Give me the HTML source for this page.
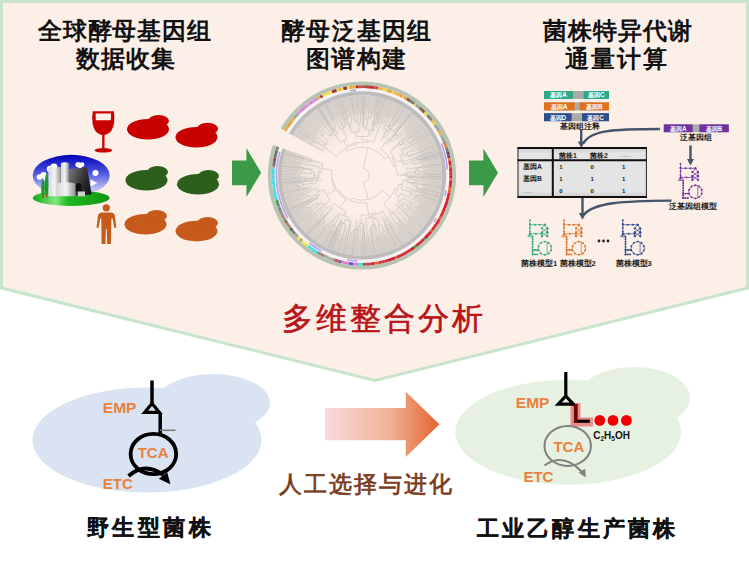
<!DOCTYPE html>
<html><head><meta charset="utf-8">
<style>
html,body{margin:0;padding:0;background:#fff;}
body{width:749px;height:570px;overflow:hidden;position:relative;font-family:"Liberation Sans",sans-serif;}
svg{position:absolute;left:0;top:0;}
.t{position:absolute;white-space:nowrap;font-family:"Liberation Sans",sans-serif;font-weight:bold;line-height:1;}
.h{font-size:24px;color:#111;text-align:center;line-height:29px;}
.sm{font-family:"Liberation Sans",sans-serif;font-weight:bold;}
</style></head><body>
<svg width="749" height="570" viewBox="0 0 749 570">
<defs>
<linearGradient id="sky" x1="0" y1="0" x2="0" y2="1"><stop offset="0" stop-color="#0000b8"/><stop offset="0.45" stop-color="#5058e0"/><stop offset="0.8" stop-color="#b8b8f4"/><stop offset="1" stop-color="#e0e0fa"/></linearGradient>
<linearGradient id="grass" x1="0" y1="0" x2="1" y2="0"><stop offset="0" stop-color="#10a810"/><stop offset="0.3" stop-color="#80e880"/><stop offset="0.45" stop-color="#20b820"/><stop offset="1" stop-color="#109810"/></linearGradient>
<linearGradient id="bld1" x1="0" y1="0" x2="1" y2="0"><stop offset="0" stop-color="#d8d8d8"/><stop offset="0.5" stop-color="#f4f4f4"/><stop offset="1" stop-color="#909090"/></linearGradient>
<linearGradient id="bld2" x1="0" y1="0" x2="1" y2="0.4"><stop offset="0" stop-color="#7a7a7a"/><stop offset="0.6" stop-color="#3a3a3a"/><stop offset="1" stop-color="#1a1a1a"/></linearGradient>
<linearGradient id="garr" x1="0" y1="0" x2="1" y2="0"><stop offset="0" stop-color="#f9d9de"/><stop offset="0.55" stop-color="#f0b49a"/><stop offset="1" stop-color="#e4642e"/></linearGradient>
<linearGradient id="tbl" x1="0" y1="0" x2="0" y2="1"><stop offset="0" stop-color="#cccccc"/><stop offset="0.12" stop-color="#e4e4e4"/><stop offset="0.88" stop-color="#e4e4e4"/><stop offset="1" stop-color="#cccccc"/></linearGradient>
</defs>
<!-- top panel -->
<polygon points="1.5,1.5 747.5,1.5 747.5,288 375,380.5 1.5,288" fill="#fcefe7" stroke="#c6e5c9" stroke-width="3"/>

<!-- factory -->
<ellipse cx="71.2" cy="175.5" rx="38.5" ry="20.7" fill="url(#sky)"/>
<g fill="#fff"><circle cx="50" cy="169" r="3.2"/><circle cx="54" cy="167" r="3.4"/><circle cx="52" cy="172" r="2.6"/>
<circle cx="39.5" cy="177" r="2.8"/><circle cx="43.5" cy="175" r="3"/><circle cx="45.5" cy="178.5" r="2.4"/>
<circle cx="78" cy="164.6" r="2.6"/><circle cx="82" cy="164.6" r="2.4"/><circle cx="80" cy="166.6" r="2"/>
<circle cx="95.5" cy="173" r="3"/><path d="M90.5 179.5L97.5 183L90.5 186.5Z"/></g>
<ellipse cx="71.2" cy="198.1" rx="38.5" ry="7.8" fill="url(#grass)"/>
<path d="M48.4 196.3V168Q52 166 56 167L61 167V196.3Z" fill="url(#bld1)"/>
<path d="M61 186V163Q65 161.5 68.9 163V186Z" fill="url(#bld1)"/>
<path d="M68.9 169L87 167.5L91.7 194.5L68.9 196Z" fill="url(#bld2)"/>
<path d="M75.5 191.5V184Q78.5 182 81.5 184V191.5Z" fill="#111"/>
<path d="M56.9 196.3V183.5Q66 181 75.5 183.5V196.3Z" fill="url(#bld1)"/>
<path d="M77.9 196.3V191.5H85V196.3Z" fill="#d0d0d0"/>
<g fill="#1a9a2a"><ellipse cx="43" cy="188.5" rx="1.8" ry="9"/><ellipse cx="46.6" cy="185.5" rx="1.8" ry="12"/></g>
<g fill="#8a5a2a"><rect x="42.4" y="194" width="1.2" height="4"/><rect x="46" y="194" width="1.2" height="4"/></g>

<!-- wine glass -->
<path d="M92.8 111.2L113.8 111.2Q115.8 124 111.2 131Q107.6 135 103.3 135Q99 135 95.4 131Q90.8 124 92.8 111.2Z" fill="#c80000"/>
<path d="M95.6 113.6H111.1L110.9 120.2H95.8Z" fill="#fcefe7"/>
<rect x="102.2" y="133" width="2.3" height="16" fill="#c80000"/>
<ellipse cx="103.4" cy="150.3" rx="8.8" ry="2.3" fill="#c80000"/>
<!-- person -->
<g fill="#c55a1c"><circle cx="106.3" cy="207.8" r="3.6"/>
<path d="M102 212.5L110.8 212.5Q114 212.5 114.8 215.5L116.3 227.5L114.3 228L112.6 218.5L111.4 218.5L111 244L107.2 244L106.7 229L105.9 229L105.4 244L101.6 244L101.3 218.5L100.2 218.5L98.5 228L96.5 227.5L98 215.5Q98.8 212.5 102 212.5Z"/></g>

<!-- yeast blobs -->
<g fill="#c80000"><ellipse cx="148" cy="129.3" rx="21" ry="10.3"/><ellipse cx="158.5" cy="121" rx="10.5" ry="6"/><ellipse cx="196.5" cy="137.3" rx="21" ry="10.3"/><ellipse cx="207.5" cy="128.8" rx="10.5" ry="6"/></g>
<g fill="#2c5f1c"><ellipse cx="146.5" cy="180.3" rx="21" ry="10.3"/><ellipse cx="157.5" cy="172" rx="10.5" ry="6"/><ellipse cx="198" cy="184.3" rx="21" ry="10.3"/><ellipse cx="208.5" cy="176" rx="10.5" ry="6"/></g>
<g fill="#c55a1c"><ellipse cx="145.5" cy="224.3" rx="21" ry="10.3"/><ellipse cx="156.5" cy="216" rx="10.5" ry="6"/><ellipse cx="196.5" cy="231.1" rx="21" ry="10.3"/><ellipse cx="207.5" cy="223" rx="10.5" ry="6"/></g>
<!-- green arrows -->
<path d="M232 160.4H246.4V148L261.1 172.7L246.4 197V185.3H232Z" fill="#3a9a48"/>
<path d="M469 160.4H483.4V148.5L498 172.7L483.4 197V185.3H469Z" fill="#3a9a48"/>

<!-- tree -->
<radialGradient id="tg" cx="362" cy="175.5" r="80" gradientUnits="userSpaceOnUse"><stop offset="0.45" stop-color="#b0acaa" stop-opacity="0"/><stop offset="0.62" stop-color="#b0acaa" stop-opacity="0.12"/><stop offset="1" stop-color="#a0a0a0" stop-opacity="0.3"/></radialGradient>
<circle cx="362" cy="175.5" r="80" fill="url(#tg)"/>
<path d="M311.0 144.9L293.4 134.3M304.7 139.5L294.3 132.9M305.4 138.3L295.2 131.6M304.7 139.5A67.7 67.7 0 0 1 305.4 138.3M312.0 143.3L305.1 138.9M311.0 144.9A59.5 59.5 0 0 1 312.0 143.3M321.9 150.6L311.5 144.1M314.6 142.9L296.1 130.2M308.8 137.4L297.0 128.9M309.6 136.3L297.9 127.6M308.8 137.4A65.5 65.5 0 0 1 309.6 136.3M315.6 141.5L309.2 136.8M314.6 142.9A57.6 57.6 0 0 1 315.6 141.5M317.7 144.1L315.1 142.2M319.2 142.1L298.9 126.3M317.7 144.1A54.3 54.3 0 0 1 319.2 142.1M322.2 145.9L318.4 143.1M316.6 138.6L299.9 125.0M314.2 135.0L301.0 123.8M315.1 134.1L302.0 122.5M314.2 135.0A62.6 62.6 0 0 1 315.1 134.1M315.7 135.5L314.6 134.5M317.0 134.1L303.1 121.3M315.7 135.5A61.2 61.2 0 0 1 317.0 134.1M318.3 136.6L316.3 134.8M316.6 138.6A58.5 58.5 0 0 1 318.3 136.6M324.3 143.3L317.5 137.6M322.2 145.9A49.6 49.6 0 0 1 324.3 143.3M324.1 145.3L323.2 144.6M316.7 132.1L304.2 120.2M317.6 131.2L305.4 119.0M316.7 132.1A62.7 62.7 0 0 1 317.6 131.2M321.8 136.2L317.1 131.7M322.0 133.9L306.5 117.9M317.9 127.8L307.7 116.8M318.9 126.9L308.9 115.7M317.9 127.8A65.0 65.0 0 0 1 318.9 126.9M323.3 132.7L318.4 127.3M322.0 133.9A57.7 57.7 0 0 1 323.3 132.7M323.7 134.5L322.6 133.3M321.8 136.2A56.2 56.2 0 0 1 323.7 134.5M328.2 140.9L322.7 135.3M324.1 145.3A48.4 48.4 0 0 1 328.2 140.9M327.0 143.8L326.1 143.1M321.9 150.6A47.2 47.2 0 0 1 327.0 143.8M336.8 156.5L324.3 147.1M320.2 126.5L310.1 114.6M321.2 125.7L311.4 113.6M320.2 126.5A64.4 64.4 0 0 1 321.2 125.7M328.6 135.4L320.7 126.1M322.4 125.0L312.6 112.6M323.4 124.2L313.9 111.6M322.4 125.0A64.1 64.1 0 0 1 323.4 124.2M325.0 127.3L322.9 124.6M326.4 126.2L315.2 110.6M325.0 127.3A60.8 60.8 0 0 1 326.4 126.2M330.8 133.6L325.7 126.7M328.6 135.4A52.2 52.2 0 0 1 330.8 133.6M330.5 135.5L329.7 134.5M323.5 119.7L316.5 109.7M324.6 118.9L317.9 108.8M323.5 119.7A67.8 67.8 0 0 1 324.6 118.9M333.5 133.3L324.0 119.3M330.5 135.5A50.9 50.9 0 0 1 333.5 133.3M333.4 136.3L332.0 134.4M326.3 119.1L319.2 107.9M327.5 118.4L320.6 107.0M326.3 119.1A66.8 66.8 0 0 1 327.5 118.4M333.3 129.1L326.9 118.7M330.9 121.7L322.0 106.2M331.3 119.6L323.4 105.4M332.4 119.0L324.9 104.6M331.3 119.6A63.8 63.8 0 0 1 332.4 119.0M332.6 120.7L331.8 119.3M330.9 121.7A62.2 62.2 0 0 1 332.6 120.7M335.4 127.8L331.8 121.2M333.3 129.1A54.6 54.6 0 0 1 335.4 127.8M337.4 133.7L334.4 128.4M333.4 136.3A48.5 48.5 0 0 1 337.4 133.7M340.4 142.6L335.4 135.0M332.9 117.1L326.3 103.9M334.1 116.5L327.8 103.2M332.9 117.1A65.3 65.3 0 0 1 334.1 116.5M334.7 119.4L333.5 116.8M336.4 118.6L329.2 102.5M334.7 119.4A62.4 62.4 0 0 1 336.4 118.6M340.3 129.1L335.6 119.0M337.9 118.8L330.7 101.9M339.0 118.3L332.2 101.3M337.9 118.8A61.6 61.6 0 0 1 339.0 118.3M340.9 124.5L338.5 118.5M339.3 115.3L333.7 100.7M340.5 114.9L335.2 100.1M339.3 115.3A64.3 64.3 0 0 1 340.5 114.9M343.0 123.7L339.9 115.1M340.9 124.5A55.1 55.1 0 0 1 343.0 123.7M343.0 126.8L342.0 124.1M345.5 125.9L336.8 99.6M343.0 126.8A52.3 52.3 0 0 1 345.5 125.9M344.6 127.3L344.3 126.3M340.3 129.1A51.2 51.2 0 0 1 344.6 127.3M347.0 139.1L342.5 128.2M340.4 142.6A39.4 39.4 0 0 1 347.0 139.1M346.5 146.1L343.6 140.7M344.8 120.0L338.3 99.1M344.2 113.8L339.9 98.6M345.5 113.5L341.4 98.2M344.2 113.8A64.2 64.2 0 0 1 345.5 113.5M345.8 117.1L344.9 113.6M346.4 111.7L343.0 97.8M347.7 111.3L344.6 97.4M346.4 111.7A65.7 65.7 0 0 1 347.7 111.3M348.2 116.5L347.0 111.5M345.8 117.1A60.5 60.5 0 0 1 348.2 116.5M347.6 119.2L347.0 116.8M344.8 120.0A58.1 58.1 0 0 1 347.6 119.2M347.5 124.2L346.2 119.6M349.9 115.8L346.2 97.1M351.2 115.6L347.8 96.8M349.9 115.8A60.9 60.9 0 0 1 351.2 115.6M352.0 123.2L350.5 115.7M347.5 124.2A53.3 53.3 0 0 1 352.0 123.2M351.9 132.7L349.7 123.7M351.3 108.8L349.4 96.5M352.7 108.6L351.0 96.3M351.3 108.8A67.5 67.5 0 0 1 352.7 108.6M353.7 120.0L352.0 108.7M354.5 112.8L352.6 96.1M355.8 112.6L354.2 95.9M354.5 112.8A63.2 63.2 0 0 1 355.8 112.6M355.9 119.7L355.2 112.7M353.7 120.0A56.1 56.1 0 0 1 355.9 119.7M355.0 121.3L354.8 119.9M356.7 107.8L355.8 95.7M358.1 107.7L357.4 95.6M356.7 107.8A67.9 67.9 0 0 1 358.1 107.7M358.3 121.0L357.4 107.7M355.0 121.3A54.6 54.6 0 0 1 358.3 121.0M356.8 122.9L356.7 121.2M359.6 112.3L359.0 95.6M360.9 112.3L360.6 95.5M359.6 112.3A63.3 63.3 0 0 1 360.9 112.3M360.6 122.7L360.3 112.3M356.8 122.9A52.9 52.9 0 0 1 360.6 122.7M359.2 131.6L358.7 122.7M351.9 132.7A44.0 44.0 0 0 1 359.2 131.6M356.3 136.8L355.5 132.0M362.2 112.0L362.3 95.5M363.5 112.0L363.9 95.5M362.2 112.0A63.5 63.5 0 0 1 363.5 112.0M362.8 113.0L362.9 112.0M364.7 113.1L365.5 95.6M362.8 113.0A62.5 62.5 0 0 1 364.7 113.1M363.4 126.8L363.8 113.1M365.6 118.7L367.1 95.7M367.7 108.4L368.7 95.8M369.0 108.5L370.3 95.9M367.7 108.4A67.3 67.3 0 0 1 369.0 108.5M368.0 112.2L368.3 108.5M369.9 112.4L372.0 96.1M368.0 112.2A63.6 63.6 0 0 1 369.9 112.4M368.4 117.1L369.0 112.3M371.1 113.5L373.6 96.3M372.3 113.7L375.2 96.6M371.1 113.5A62.6 62.6 0 0 1 372.3 113.7M371.1 117.5L371.7 113.6M368.4 117.1A58.8 58.8 0 0 1 371.1 117.5M369.5 119.0L369.8 117.3M365.6 118.7A56.9 56.9 0 0 1 369.5 119.0M366.8 127.0L367.6 118.8M363.4 126.8A48.7 48.7 0 0 1 366.8 127.0M364.9 129.4L365.1 126.9M374.6 108.6L376.8 96.9M375.9 108.9L378.3 97.2M374.6 108.6A68.1 68.1 0 0 1 375.9 108.9M374.1 114.7L375.2 108.7M375.9 115.1L379.9 97.5M374.1 114.7A62.0 62.0 0 0 1 375.9 115.1M373.2 123.4L375.0 114.8M376.1 119.5L381.5 97.9M378.2 116.1L383.1 98.3M379.4 116.4L384.6 98.8M378.2 116.1A61.6 61.6 0 0 1 379.4 116.4M377.8 119.9L378.8 116.2M376.1 119.5A57.8 57.8 0 0 1 377.8 119.9M375.8 124.0L376.9 119.7M373.2 123.4A53.3 53.3 0 0 1 375.8 124.0M372.8 130.6L374.5 123.7M364.9 129.4A46.2 46.2 0 0 1 372.8 130.6M367.8 136.8L368.9 129.9M356.3 136.8A39.2 39.2 0 0 1 367.8 136.8M362.0 139.9L362.0 136.3M378.7 122.8L386.2 99.2M380.9 119.8L387.7 99.7M383.7 115.5L389.3 100.3M384.9 116.0L390.8 100.9M383.7 115.5A63.8 63.8 0 0 1 384.9 116.0M382.6 120.4L384.3 115.8M380.9 119.8A58.8 58.8 0 0 1 382.6 120.4M381.3 121.4L381.8 120.1M386.0 116.8L392.3 101.5M387.2 117.3L393.8 102.1M386.0 116.8A63.4 63.4 0 0 1 387.2 117.3M384.3 122.6L386.6 117.1M381.3 121.4A57.4 57.4 0 0 1 384.3 122.6M382.0 124.0L382.8 122.0M378.7 122.8A55.2 55.2 0 0 1 382.0 124.0M373.8 141.9L380.4 123.4M362.0 139.9A35.6 35.6 0 0 1 373.8 141.9M367.6 142.7L368.0 140.4M346.5 146.1A33.2 33.2 0 0 1 367.6 142.7M357.0 144.3L356.8 142.7M336.8 156.5A31.6 31.6 0 0 1 357.0 144.3M347.5 151.3L345.7 148.4M383.5 128.4L395.2 102.7M389.9 117.6L396.7 103.4M391.1 118.2L398.2 104.1M389.9 117.6A64.3 64.3 0 0 1 391.1 118.2M387.0 125.0L390.5 117.9M392.1 119.1L399.6 104.9M393.2 119.7L401.0 105.7M392.1 119.1A63.9 63.9 0 0 1 393.2 119.7M389.7 124.8L392.6 119.4M392.3 123.8L402.4 106.5M394.0 123.3L403.8 107.3M396.6 121.5L405.2 108.2M398.5 121.0L406.6 109.1M399.6 121.8L407.9 110.0M398.5 121.0A65.6 65.6 0 0 1 399.6 121.8M398.3 122.6L399.1 121.4M396.6 121.5A64.2 64.2 0 0 1 398.3 122.6M395.9 124.5L397.5 122.0M394.0 123.3A61.2 61.2 0 0 1 395.9 124.5M394.2 125.0L394.9 123.9M392.3 123.8A59.9 59.9 0 0 1 394.2 125.0M392.1 126.2L393.3 124.4M389.7 124.8A57.7 57.7 0 0 1 392.1 126.2M390.2 126.7L390.9 125.5M387.0 125.0A56.4 56.4 0 0 1 390.2 126.7M387.8 127.4L388.6 125.8M394.2 131.4L409.2 110.9M387.8 127.4A54.6 54.6 0 0 1 394.2 131.4M389.6 131.6L391.0 129.3M383.5 128.4A51.8 51.8 0 0 1 389.6 131.6M383.4 135.8L386.6 129.9M398.6 127.5L410.5 111.9M403.8 122.9L411.8 112.9M404.9 123.8L413.0 113.9M403.8 122.9A67.2 67.2 0 0 1 404.9 123.8M400.0 128.6L404.4 123.3M398.6 127.5A60.4 60.4 0 0 1 400.0 128.6M394.9 133.7L399.3 128.1M405.2 125.4L414.3 114.9M406.2 126.3L415.5 116.0M405.2 125.4A66.1 66.1 0 0 1 406.2 126.3M404.6 127.1L405.7 125.9M406.1 128.4L416.7 117.1M404.6 127.1A64.5 64.5 0 0 1 406.1 128.4M397.8 136.1L405.4 127.8M394.9 133.7A53.2 53.2 0 0 1 397.8 136.1M395.3 136.2L396.4 134.9M398.0 138.6L417.9 118.2M395.3 136.2A51.5 51.5 0 0 1 398.0 138.6M392.3 142.1L396.6 137.4M383.4 135.8A45.1 45.1 0 0 1 392.3 142.1M380.9 148.9L388.0 138.7M407.5 130.7L419.0 119.4M410.3 129.8L420.1 120.5M411.2 130.8L421.2 121.7M410.3 129.8A66.5 66.5 0 0 1 411.2 130.8M408.8 132.1L410.8 130.3M407.5 130.7A63.8 63.8 0 0 1 408.8 132.1M406.4 133.1L408.2 131.4M408.3 135.1L422.3 122.9M406.4 133.1A61.4 61.4 0 0 1 408.3 135.1M398.4 142.3L407.4 134.1M402.2 141.9L423.4 124.2M409.3 137.5L424.4 125.4M412.1 136.9L425.4 126.7M412.9 137.9L426.4 128.0M412.1 136.9A63.3 63.3 0 0 1 412.9 137.9M410.5 139.0L412.5 137.4M409.3 137.5A60.7 60.7 0 0 1 410.5 139.0M407.2 140.3L409.9 138.2M412.8 139.6L427.3 129.3M413.5 140.6L428.2 130.6M412.8 139.6A62.2 62.2 0 0 1 413.5 140.6M409.1 142.9L413.1 140.1M407.2 140.3A57.3 57.3 0 0 1 409.1 142.9M404.2 144.5L408.2 141.6M402.2 141.9A52.4 52.4 0 0 1 404.2 144.5M400.8 145.1L403.2 143.2M398.4 142.3A49.3 49.3 0 0 1 400.8 145.1M390.1 151.7L399.6 143.7M411.3 143.6L429.1 132.0M418.4 140.6L430.0 133.4M419.1 141.7L430.8 134.7M418.4 140.6A66.3 66.3 0 0 1 419.1 141.7M415.9 142.9L418.7 141.1M416.9 144.5L431.7 136.1M415.9 142.9A63.0 63.0 0 0 1 416.9 144.5M412.7 145.8L416.4 143.7M411.3 143.6A58.7 58.7 0 0 1 412.7 145.8M401.9 150.9L412.0 144.7M411.0 149.1L432.4 137.6M419.1 146.2L433.2 139.0M419.7 147.4L433.9 140.5M419.1 146.2A64.2 64.2 0 0 1 419.7 147.4M417.2 147.9L419.4 146.8M420.0 148.6L434.6 141.9M420.6 149.8L435.3 143.4M420.0 148.6A64.0 64.0 0 0 1 420.6 149.8M418.3 150.1L420.3 149.2M417.2 147.9A61.7 61.7 0 0 1 418.3 150.1M412.3 151.6L417.8 149.0M411.0 149.1A55.7 55.7 0 0 1 412.3 151.6M406.9 152.8L411.7 150.4M420.4 151.3L435.9 144.9M420.8 152.5L436.5 146.4M420.4 151.3A63.2 63.2 0 0 1 420.8 152.5M408.7 156.7L420.6 151.9M406.9 152.8A50.3 50.3 0 0 1 408.7 156.7M404.7 156.2L407.8 154.7M401.9 150.9A46.9 46.9 0 0 1 404.7 156.2M399.8 155.4L403.4 153.5M420.2 154.1L437.1 147.9M420.6 155.3L437.6 149.4M420.2 154.1A62.0 62.0 0 0 1 420.6 155.3M417.4 155.8L420.4 154.7M418.0 157.5L438.1 151.0M417.4 155.8A58.8 58.8 0 0 1 418.0 157.5M416.6 157.0L417.7 156.6M419.3 158.3L438.6 152.5M423.9 158.3L439.1 154.1M424.2 159.5L439.5 155.6M423.9 158.3A64.3 64.3 0 0 1 424.2 159.5M419.8 160.0L424.1 158.9M419.3 158.3A59.9 59.9 0 0 1 419.8 160.0M417.4 159.8L419.6 159.2M416.6 157.0A57.6 57.6 0 0 1 417.4 159.8M412.2 159.9L417.0 158.4M422.2 161.4L439.9 157.2M427.6 161.5L440.2 158.8M427.9 162.8L440.6 160.4M427.6 161.5A67.1 67.1 0 0 1 427.9 162.8M422.6 163.2L427.8 162.2M422.2 161.4A61.8 61.8 0 0 1 422.6 163.2M413.4 164.3L422.4 162.3M412.2 159.9A52.6 52.6 0 0 1 413.4 164.3M403.4 164.5L412.8 162.1M399.8 155.4A42.9 42.9 0 0 1 403.4 164.5M396.3 162.1L401.9 159.8M390.1 151.7A36.8 36.8 0 0 1 396.3 162.1M392.2 157.5L393.6 156.6M422.2 165.2L440.8 162.0M422.4 166.4L441.1 163.6M422.2 165.2A61.1 61.1 0 0 1 422.4 166.4M421.4 165.9L422.3 165.8M429.4 166.7L441.3 165.2M429.6 168.1L441.5 166.8M429.4 166.7A68.0 68.0 0 0 1 429.6 168.1M421.7 168.3L429.5 167.4M421.4 165.9A60.1 60.1 0 0 1 421.7 168.3M417.7 167.7L421.6 167.1M425.4 169.9L441.7 168.4M425.5 171.1L441.8 170.0M425.4 169.9A63.6 63.6 0 0 1 425.5 171.1M424.1 170.6L425.4 170.5M424.3 172.5L441.9 171.6M424.1 170.6A62.3 62.3 0 0 1 424.3 172.5M418.2 171.9L424.2 171.5M417.7 167.7A56.3 56.3 0 0 1 418.2 171.9M415.2 170.1L418.0 169.8M415.5 174.0L442.0 173.2M415.2 170.1A53.5 53.5 0 0 1 415.5 174.0M406.3 172.6L415.4 172.0M426.4 175.0L442.0 174.9M429.2 176.3L442.0 176.5M429.2 177.7L442.0 178.1M429.2 176.3A67.2 67.2 0 0 1 429.2 177.7M426.4 176.9L429.2 177.0M426.4 175.0A64.4 64.4 0 0 1 426.4 176.9M423.4 175.9L426.4 176.0M423.3 178.7L441.9 179.7M423.4 175.9A61.4 61.4 0 0 1 423.3 178.7M406.3 176.8L423.4 177.3M406.3 172.6A44.4 44.4 0 0 1 406.3 176.8M397.1 174.9L406.3 174.7M392.2 157.5A35.1 35.1 0 0 1 397.1 174.9M393.4 166.6L395.8 165.9M380.9 148.9A32.6 32.6 0 0 1 393.4 166.6M385.0 159.2L388.6 156.6M347.5 151.3A28.2 28.2 0 0 1 385.0 159.2M363.4 168.6L367.8 147.9M408.0 178.9L441.8 181.3M426.3 181.5L441.7 183.0M426.2 182.8L441.5 184.6M426.3 181.5A64.6 64.6 0 0 1 426.2 182.8M414.2 180.9L426.3 182.2M423.2 183.7L441.3 186.2M424.4 185.2L441.1 187.8M425.6 186.7L440.8 189.4M425.4 188.0L440.5 191.0M425.6 186.7A64.6 64.6 0 0 1 425.4 188.0M424.1 187.1L425.5 187.4M424.4 185.2A63.2 63.2 0 0 1 424.1 187.1M422.8 185.9L424.3 186.1M423.2 183.7A61.7 61.7 0 0 1 422.8 185.9M417.3 184.0L423.0 184.8M423.1 188.8L440.2 192.6M422.8 190.1L439.8 194.1M423.1 188.8A62.5 62.5 0 0 1 422.8 190.1M421.0 189.0L422.9 189.4M420.6 190.8L439.4 195.7M421.0 189.0A60.6 60.6 0 0 1 420.6 190.8M416.4 188.8L420.8 189.9M417.3 184.0A56.0 56.0 0 0 1 416.4 188.8M413.5 185.7L416.9 186.4M414.2 180.9A52.5 52.5 0 0 1 413.5 185.7M407.7 182.4L413.9 183.3M408.0 178.9A46.2 46.2 0 0 1 407.7 182.4M403.1 180.1L407.9 180.6M420.6 192.1L439.0 197.3M420.3 193.3L438.5 198.8M420.6 192.1A60.9 60.9 0 0 1 420.3 193.3M411.8 190.1L420.4 192.7M420.9 194.8L438.0 200.4M423.0 196.9L437.5 201.9M422.6 198.1L437.0 203.4M423.0 196.9A64.7 64.7 0 0 1 422.6 198.1M420.3 196.5L422.8 197.5M420.9 194.8A62.0 62.0 0 0 1 420.3 196.5M417.9 194.7L420.6 195.7M417.0 197.3L436.4 204.9M417.9 194.7A59.1 59.1 0 0 1 417.0 197.3M416.1 195.5L417.5 196.0M415.1 197.8L435.8 206.4M416.1 195.5A57.6 57.6 0 0 1 415.1 197.8M410.2 194.5L415.6 196.6M411.8 190.1A51.9 51.9 0 0 1 410.2 194.5M401.1 188.9L411.1 192.3M403.1 180.1A41.3 41.3 0 0 1 401.1 188.9M399.0 183.8L402.3 184.6M420.1 201.3L435.1 207.9M421.1 203.2L434.5 209.4M420.6 204.4L433.8 210.9M421.1 203.2A65.3 65.3 0 0 1 420.6 204.4M419.3 203.0L420.8 203.8M420.1 201.3A63.5 63.5 0 0 1 419.3 203.0M400.8 193.4L419.7 202.1M420.0 205.6L433.0 212.3M419.4 206.8L432.3 213.7M420.0 205.6A65.4 65.4 0 0 1 419.4 206.8M410.8 201.4L419.7 206.2M415.3 205.9L431.5 215.2M414.7 207.0L430.7 216.6M415.3 205.9A61.4 61.4 0 0 1 414.7 207.0M409.7 203.4L415.0 206.5M410.8 201.4A55.2 55.2 0 0 1 409.7 203.4M402.4 198.0L410.2 202.4M419.2 211.3L429.8 217.9M418.5 212.5L428.9 219.3M419.2 211.3A67.5 67.5 0 0 1 418.5 212.5M403.7 202.2L418.8 211.9M404.1 204.3L428.0 220.7M407.4 207.9L427.1 222.0M413.6 213.9L426.2 223.3M414.1 216.0L425.2 224.6M413.3 217.0L424.2 225.9M414.1 216.0A66.0 66.0 0 0 1 413.3 217.0M412.4 215.5L413.7 216.5M413.6 213.9A64.4 64.4 0 0 1 412.4 215.5M407.5 210.5L413.0 214.7M405.8 212.5L423.1 227.1M407.5 210.5A57.4 57.4 0 0 1 405.8 212.5M405.4 210.5L406.7 211.5M407.4 207.9A55.7 55.7 0 0 1 405.4 210.5M405.6 208.6L406.4 209.2M410.1 217.8L422.1 228.3M409.2 218.8L421.0 229.5M410.1 217.8A64.0 64.0 0 0 1 409.2 218.8M402.7 212.0L409.7 218.3M405.6 208.6A54.7 54.7 0 0 1 402.7 212.0M401.3 207.9L404.2 210.3M404.1 204.3A51.0 51.0 0 0 1 401.3 207.9M401.6 205.3L402.7 206.1M403.7 202.2A49.6 49.6 0 0 1 401.6 205.3M402.0 203.3L402.7 203.8M408.7 220.0L419.9 230.7M407.7 220.9L418.8 231.9M408.7 220.0A64.5 64.5 0 0 1 407.7 220.9M405.6 217.9L408.2 220.5M404.3 219.2L417.6 233.0M405.6 217.9A60.8 60.8 0 0 1 404.3 219.2M396.3 210.0L404.9 218.6M402.0 203.3A48.7 48.7 0 0 1 396.3 210.0M397.5 205.2L399.3 206.7M402.4 198.0A46.3 46.3 0 0 1 397.5 205.2M397.2 199.7L400.1 201.7M400.8 193.4A42.7 42.7 0 0 1 397.2 199.7M395.0 194.3L399.1 196.6M399.0 183.8A38.0 38.0 0 0 1 395.0 194.3M395.1 188.3L397.4 189.2M407.7 224.7L416.4 234.1M406.7 225.6L415.2 235.2M407.7 224.7A67.1 67.1 0 0 1 406.7 225.6M401.8 219.2L407.2 225.2M402.9 223.3L414.0 236.3M401.9 224.1L412.8 237.3M402.9 223.3A62.9 62.9 0 0 1 401.9 224.1M400.8 221.7L402.4 223.7M399.3 222.9L411.5 238.3M400.8 221.7A60.3 60.3 0 0 1 399.3 222.9M399.3 221.4L400.1 222.3M401.8 219.2A59.1 59.1 0 0 1 399.3 221.4M393.4 212.0L400.5 220.3M398.8 224.2L410.2 239.3M397.8 224.9L408.9 240.3M398.8 224.2A61.0 61.0 0 0 1 397.8 224.9M397.2 223.1L398.3 224.5M399.5 229.5L407.6 241.2M398.4 230.3L406.3 242.1M399.5 229.5A65.8 65.8 0 0 1 398.4 230.3M395.2 224.5L398.9 229.9M397.2 223.1A59.2 59.2 0 0 1 395.2 224.5M389.8 214.7L396.2 223.8M393.4 212.0A48.1 48.1 0 0 1 389.8 214.7M383.9 203.5L391.6 213.4M395.1 188.3A35.5 35.5 0 0 1 383.9 203.5M381.9 190.3L390.5 196.7M398.5 233.0L404.9 243.0M397.4 233.8L403.5 243.9M398.5 233.0A68.2 68.2 0 0 1 397.4 233.8M388.0 217.4L398.0 233.4M387.9 220.3L402.1 244.7M389.7 225.6L400.7 245.5M391.4 231.4L399.3 246.3M390.3 231.9L397.8 247.0M391.4 231.4A63.1 63.1 0 0 1 390.3 231.9M389.0 228.1L390.9 231.6M387.4 228.9L396.4 247.7M389.0 228.1A59.1 59.1 0 0 1 387.4 228.9M387.4 226.8L388.2 228.5M389.7 225.6A57.2 57.2 0 0 1 387.4 226.8M387.5 224.1L388.5 226.2M384.6 225.5L394.9 248.4M387.5 224.1A54.9 54.9 0 0 1 384.6 225.5M384.7 222.0L386.0 224.9M387.9 220.3A51.7 51.7 0 0 1 384.7 222.0M385.2 219.0L386.3 221.2M388.0 217.4A49.3 49.3 0 0 1 385.2 219.0M382.6 211.3L386.6 218.2M386.8 233.5L393.4 249.1M385.6 234.0L391.9 249.7M386.8 233.5A63.1 63.1 0 0 1 385.6 234.0M384.8 230.4L386.2 233.7M385.2 236.6L390.4 250.3M384.0 237.1L388.9 250.8M385.2 236.6A65.4 65.4 0 0 1 384.0 237.1M382.6 231.3L384.6 236.9M384.8 230.4A59.5 59.5 0 0 1 382.6 231.3M381.3 224.8L383.7 230.9M381.2 233.0L387.4 251.4M380.9 236.1L385.8 251.9M379.7 236.5L384.3 252.3M380.9 236.1A63.5 63.5 0 0 1 379.7 236.5M379.5 233.6L380.3 236.3M381.2 233.0A60.7 60.7 0 0 1 379.5 233.6M378.0 226.0L380.4 233.3M381.3 224.8A52.9 52.9 0 0 1 378.0 226.0M377.0 217.8L379.7 225.4M375.0 224.1L382.7 252.8M377.0 236.3L381.2 253.2M375.8 236.5L379.6 253.5M377.0 236.3A62.6 62.6 0 0 1 375.8 236.5M373.9 226.0L376.4 236.4M375.4 241.4L378.0 253.9M374.1 241.6L376.4 254.2M375.4 241.4A67.2 67.2 0 0 1 374.1 241.6M372.4 229.4L374.8 241.5M372.5 240.5L374.8 254.5M371.2 240.7L373.2 254.7M372.5 240.5A65.8 65.8 0 0 1 371.2 240.7M370.2 229.7L371.9 240.6M372.4 229.4A54.9 54.9 0 0 1 370.2 229.7M370.8 226.6L371.3 229.6M373.9 226.0A51.9 51.9 0 0 1 370.8 226.6M372.1 224.8L372.4 226.3M375.0 224.1A50.3 50.3 0 0 1 372.1 224.8M372.3 219.2L373.6 224.5M377.0 217.8A44.9 44.9 0 0 1 372.3 219.2M374.1 216.7L374.7 218.5M369.7 239.3L371.6 254.9M368.4 239.4L370.0 255.1M369.7 239.3A64.2 64.2 0 0 1 368.4 239.4M368.8 236.5L369.1 239.3M367.2 240.3L368.4 255.2M365.9 240.4L366.8 255.4M367.2 240.3A65.0 65.0 0 0 1 365.9 240.4M366.3 236.7L366.5 240.3M368.8 236.5A61.4 61.4 0 0 1 366.3 236.7M365.9 218.3L367.5 236.7M374.1 216.7A43.0 43.0 0 0 1 365.9 218.3M369.7 216.1L370.0 217.7M382.6 211.3A41.3 41.3 0 0 1 369.7 216.1M375.8 212.7L376.4 214.2M364.3 234.3L365.1 255.4M363.2 239.3L363.5 255.5M361.9 239.3L361.9 255.5M363.2 239.3A63.8 63.8 0 0 1 361.9 239.3M362.5 234.3L362.6 239.3M364.3 234.3A58.8 58.8 0 0 1 362.5 234.3M363.2 223.7L363.4 234.3M360.6 242.3L360.3 255.5M359.2 242.3L358.7 255.4M360.6 242.3A66.8 66.8 0 0 1 359.2 242.3M360.4 226.6L359.9 242.3M358.7 229.2L357.0 255.3M357.5 230.4L355.4 255.2M355.7 236.7L353.8 255.1M354.1 239.6L352.2 254.9M352.8 239.5L350.6 254.7M354.1 239.6A64.6 64.6 0 0 1 352.8 239.5M353.8 236.5L353.4 239.6M355.7 236.7A61.5 61.5 0 0 1 353.8 236.5M355.3 232.3L354.8 236.6M352.5 233.2L349.0 254.4M349.6 242.5L347.4 254.2M348.2 242.3L345.8 253.8M349.6 242.5A68.2 68.2 0 0 1 348.2 242.3M350.7 232.9L348.9 242.4M352.5 233.2A58.5 58.5 0 0 1 350.7 232.9M351.9 231.8L351.6 233.0M355.3 232.3A57.2 57.2 0 0 1 351.9 231.8M353.9 230.0L353.6 232.0M357.5 230.4A55.1 55.1 0 0 1 353.9 230.0M355.8 229.0L355.7 230.2M358.7 229.2A53.8 53.8 0 0 1 355.8 229.0M357.5 226.4L357.2 229.1M360.4 226.6A51.1 51.1 0 0 1 357.5 226.4M359.1 223.6L358.9 226.5M363.2 223.7A48.2 48.2 0 0 1 359.1 223.6M361.3 215.2L361.1 223.7M375.8 212.7A39.7 39.7 0 0 1 361.3 215.2M366.6 202.7L368.7 214.6M349.6 230.1L344.2 253.5M346.4 238.1L342.7 253.1M344.5 240.2L341.1 252.7M343.2 239.8L339.5 252.3M344.5 240.2A67.0 67.0 0 0 1 343.2 239.8M344.5 237.6L343.8 240.0M346.4 238.1A64.5 64.5 0 0 1 344.5 237.6M347.6 229.6L345.4 237.9M349.6 230.1A56.0 56.0 0 0 1 347.6 229.6M350.8 221.1L348.6 229.9M342.6 237.0L338.0 251.8M341.4 236.6L336.4 251.3M342.6 237.0A64.5 64.5 0 0 1 341.4 236.6M346.0 224.6L342.0 236.9M338.9 239.6L334.9 250.8M337.6 239.2L333.4 250.2M338.9 239.6A68.2 68.2 0 0 1 337.6 239.2M340.0 234.8L338.3 239.4M338.2 234.1L331.9 249.6M340.0 234.8A63.2 63.2 0 0 1 338.2 234.1M340.6 230.6L339.1 234.4M338.6 229.8L330.4 249.0M340.6 230.6A59.1 59.1 0 0 1 338.6 229.8M341.7 225.1L339.6 230.2M336.0 232.7L328.9 248.3M334.8 232.2L327.4 247.6M336.0 232.7A62.9 62.9 0 0 1 334.8 232.2M339.4 224.0L335.4 232.5M341.7 225.1A53.5 53.5 0 0 1 339.4 224.0M341.3 222.8L340.5 224.6M346.0 224.6A51.7 51.7 0 0 1 341.3 222.8M345.3 219.4L343.6 223.8M350.8 221.1A47.0 47.0 0 0 1 345.3 219.4M348.8 217.6L348.0 220.3M333.9 231.2L326.0 246.9M332.2 231.7L324.5 246.2M331.1 231.1L323.1 245.4M332.2 231.7A63.7 63.7 0 0 1 331.1 231.1M332.2 230.3L331.6 231.4M333.9 231.2A62.4 62.4 0 0 1 332.2 230.3M335.8 225.6L333.1 230.8M333.5 224.4L321.7 244.6M335.8 225.6A56.6 56.6 0 0 1 333.5 224.4M338.8 217.4L334.6 225.0M333.6 222.0L320.3 243.8M329.4 226.5L318.9 242.9M326.5 228.6L317.6 242.0M325.5 227.9L316.2 241.1M326.5 228.6A63.9 63.9 0 0 1 325.5 227.9M326.5 227.5L326.0 228.3M324.9 226.4L314.9 240.2M326.5 227.5A63.0 63.0 0 0 1 324.9 226.4M327.1 225.0L325.7 227.0M329.4 226.5A60.5 60.5 0 0 1 327.1 225.0M331.6 220.7L328.3 225.8M333.6 222.0A54.5 54.5 0 0 1 331.6 220.7M336.2 215.8L332.6 221.4M338.8 217.4A47.8 47.8 0 0 1 336.2 215.8M339.4 213.4L337.5 216.6M348.8 217.6A44.2 44.2 0 0 1 339.4 213.4M346.1 211.2L344.0 215.8M325.2 224.0L313.6 239.2M320.6 227.8L312.3 238.2M319.5 227.0L311.1 237.2M320.6 227.8A66.7 66.7 0 0 1 319.5 227.0M321.9 225.1L320.1 227.4M320.4 223.9L309.8 236.2M321.9 225.1A63.8 63.8 0 0 1 320.4 223.9M323.0 222.3L321.1 224.5M325.2 224.0A60.9 60.9 0 0 1 323.0 222.3M325.1 221.9L324.1 223.1M322.4 219.7L308.6 235.1M325.1 221.9A59.3 59.3 0 0 1 322.4 219.7M324.7 219.6L323.7 220.8M322.6 217.7L307.4 234.0M324.7 219.6A57.7 57.7 0 0 1 322.6 217.7M325.2 217.0L323.7 218.7M323.3 215.3L306.3 232.9M325.2 217.0A55.5 55.5 0 0 1 323.3 215.3M331.6 208.2L324.2 216.2M318.0 219.0L305.1 231.7M317.1 218.1L304.0 230.6M318.0 219.0A61.9 61.9 0 0 1 317.1 218.1M321.6 214.7L317.6 218.6M315.4 218.0L302.9 229.4M314.5 217.1L301.8 228.2M315.4 218.0A63.1 63.1 0 0 1 314.5 217.1M320.0 213.0L314.9 217.5M321.6 214.7A56.3 56.3 0 0 1 320.0 213.0M329.3 205.9L320.8 213.8M331.6 208.2A44.7 44.7 0 0 1 329.3 205.9M334.4 203.2L330.4 207.1M346.1 211.2A39.1 39.1 0 0 1 334.4 203.2M345.6 199.4L339.8 207.7M325.9 205.8L300.7 227.0M315.5 213.0L299.7 225.7M311.7 214.4L298.7 224.4M310.9 213.4L297.7 223.1M311.7 214.4A63.6 63.6 0 0 1 310.9 213.4M314.4 211.6L311.3 213.9M315.5 213.0A59.8 59.8 0 0 1 314.4 211.6M322.8 206.1L314.9 212.3M312.2 210.9L296.8 221.8M311.5 209.9L295.9 220.5M312.2 210.9A61.1 61.1 0 0 1 311.5 209.9M319.0 205.4L311.8 210.4M310.5 209.0L295.0 219.1M305.5 210.7L294.1 217.8M304.8 209.5L293.2 216.4M305.5 210.7A66.5 66.5 0 0 1 304.8 209.5M307.4 208.7L305.2 210.1M306.4 207.1L292.4 215.0M307.4 208.7A63.9 63.9 0 0 1 306.4 207.1M309.0 206.7L306.9 207.9M310.5 209.0A61.5 61.5 0 0 1 309.0 206.7M317.5 203.1L309.7 207.9M319.0 205.4A52.4 52.4 0 0 1 317.5 203.1M320.4 202.8L318.2 204.2M322.8 206.1A49.7 49.7 0 0 1 320.4 202.8M323.7 203.0L321.6 204.5M325.9 205.8A47.1 47.1 0 0 1 323.7 203.0M330.1 200.3L324.8 204.4M303.7 207.0L291.6 213.6M303.1 205.9L290.9 212.1M303.7 207.0A66.3 66.3 0 0 1 303.1 205.9M311.7 202.1L303.4 206.5M310.9 200.5L290.2 210.7M311.7 202.1A56.9 56.9 0 0 1 310.9 200.5M317.9 197.9L311.3 201.3M300.6 204.0L289.5 209.2M300.1 202.8L288.8 207.8M300.6 204.0A67.7 67.7 0 0 1 300.1 202.8M310.6 198.8L300.3 203.4M303.6 199.8L288.2 206.3M299.6 200.0L287.5 204.8M299.1 198.8L287.0 203.3M299.6 200.0A67.0 67.0 0 0 1 299.1 198.8M302.9 198.0L299.4 199.4M303.6 199.8A63.2 63.2 0 0 1 302.9 198.0M306.4 197.7L303.3 198.9M305.5 195.1L286.4 201.7M306.4 197.7A59.9 59.9 0 0 1 305.5 195.1M309.1 195.2L305.9 196.4M310.6 198.8A56.5 56.5 0 0 1 309.1 195.2M316.2 194.4L309.8 197.0M317.9 197.9A49.5 49.5 0 0 1 316.2 194.4M319.3 195.1L317.0 196.2M303.9 194.4L285.9 200.2M303.5 193.2L285.4 198.6M303.9 194.4A61.1 61.1 0 0 1 303.5 193.2M309.8 191.8L303.7 193.8M307.2 190.9L285.0 197.1M299.2 191.7L284.5 195.5M298.9 190.5L284.2 194.0M299.2 191.7A64.9 64.9 0 0 1 298.9 190.5M304.2 189.8L299.0 191.1M303.8 188.1L283.8 192.4M304.2 189.8A59.6 59.6 0 0 1 303.8 188.1M306.5 188.3L304.0 188.9M307.2 190.9A56.9 56.9 0 0 1 306.5 188.3M309.1 189.0L306.9 189.6M309.8 191.8A54.7 54.7 0 0 1 309.1 189.0M316.8 188.4L309.4 190.4M319.3 195.1A47.0 47.0 0 0 1 316.8 188.4M324.1 189.5L317.9 191.8M330.1 200.3A40.4 40.4 0 0 1 324.1 189.5M335.5 190.2L326.6 195.1M299.4 187.7L283.5 190.8M297.3 186.7L283.2 189.2M297.1 185.4L282.9 187.6M297.3 186.7A65.7 65.7 0 0 1 297.1 185.4M299.1 185.8L297.2 186.1M299.4 187.7A63.7 63.7 0 0 1 299.1 185.8M303.1 186.0L299.3 186.7M302.7 183.3L282.7 186.0M303.1 186.0A59.8 59.8 0 0 1 302.7 183.3M317.1 182.5L302.9 184.7M303.9 182.0L282.5 184.4M300.0 181.2L282.3 182.8M299.9 179.9L282.2 181.2M300.0 181.2A62.3 62.3 0 0 1 299.9 179.9M303.7 180.2L299.9 180.5M303.9 182.0A58.4 58.4 0 0 1 303.7 180.2M305.8 180.9L303.8 181.1M297.7 178.7L282.1 179.5M297.7 177.4L282.0 177.9M297.7 178.7A64.4 64.4 0 0 1 297.7 177.4M300.3 178.0L297.7 178.1M300.2 176.1L282.0 176.3M300.3 178.0A61.8 61.8 0 0 1 300.2 176.1M305.6 176.9L300.3 177.1M305.8 180.9A56.5 56.5 0 0 1 305.6 176.9M314.2 178.4L305.7 178.9M295.5 174.8L282.0 174.7M295.5 173.5L282.0 173.1M295.5 174.8A66.6 66.6 0 0 1 295.5 173.5M300.9 174.2L295.5 174.1M296.7 172.2L282.1 171.4M296.8 170.9L282.2 169.8M296.7 172.2A65.4 65.4 0 0 1 296.8 170.9M301.0 171.8L296.8 171.5M300.9 174.2A61.1 61.1 0 0 1 301.0 171.8M311.7 173.5L300.9 173.0M303.3 170.1L282.3 168.2M299.9 168.5L282.5 166.6M300.1 167.3L282.7 165.0M299.9 168.5A62.4 62.4 0 0 1 300.1 167.3M301.1 168.0L300.0 167.9M301.3 166.2L282.9 163.4M301.1 168.0A61.4 61.4 0 0 1 301.3 166.2M303.6 167.5L301.2 167.1M303.3 170.1A59.0 59.0 0 0 1 303.6 167.5M312.0 169.8L303.4 168.8M311.7 173.5A50.3 50.3 0 0 1 312.0 169.8M314.2 171.8L311.8 171.6M314.2 178.4A47.9 47.9 0 0 1 314.2 171.8M316.6 175.1L314.1 175.1M317.1 182.5A45.4 45.4 0 0 1 316.6 175.1M318.6 178.7L316.7 178.8M297.6 164.3L283.2 161.8M297.8 163.0L283.5 160.2M297.6 164.3A65.4 65.4 0 0 1 297.8 163.0M300.5 164.2L297.7 163.6M300.9 162.3L283.8 158.6M300.5 164.2A62.5 62.5 0 0 1 300.9 162.3M319.3 167.0L300.7 163.2M318.6 178.7A43.5 43.5 0 0 1 319.3 167.0M321.0 172.9L318.6 172.8M295.6 159.7L284.2 157.0M296.0 158.4L284.6 155.4M295.6 159.7A68.2 68.2 0 0 1 296.0 158.4M309.3 162.4L295.8 159.1M303.1 159.0L285.0 153.9M303.4 157.8L285.4 152.3M303.1 159.0A61.2 61.2 0 0 1 303.4 157.8M309.9 160.3L303.2 158.4M309.3 162.4A54.3 54.3 0 0 1 309.9 160.3M311.0 161.8L309.6 161.4M311.8 159.2L285.9 150.8M311.0 161.8A52.8 52.8 0 0 1 311.8 159.2M322.6 163.8L311.4 160.5M321.0 172.9A41.1 41.1 0 0 1 322.6 163.8M332.1 170.2L321.6 168.3M335.5 190.2A30.3 30.3 0 0 1 332.1 170.2M333.4 180.3L332.1 180.5M345.6 199.4A29.0 29.0 0 0 1 333.4 180.3M338.7 190.3L337.5 191.1M366.6 202.7A27.6 27.6 0 0 1 338.7 190.3M352.0 198.1L350.8 200.8M381.9 190.3A24.8 24.8 0 0 1 352.0 198.1M363.8 182.3L368.3 199.5M363.4 168.6A7.0 7.0 0 0 1 363.8 182.3" fill="none" stroke="#b4b0ac" stroke-width="0.45"/>
<path d="M376.2 127.8L384.8 98.8M356.6 220.0L352.3 254.9M417.0 187.9L440.1 193.0M312.7 161.7L285.0 153.9M392.3 149.3L422.5 123.2M405.4 187.2L439.2 196.4M335.1 133.2L319.1 108.0M302.6 158.3L285.1 153.3M420.0 160.2L439.4 155.1M322.4 179.7L282.5 184.0M336.0 126.0L324.9 104.6M386.6 135.9L404.2 107.5M388.3 221.7L401.6 245.0M387.1 143.4L411.3 112.5M408.2 156.6L436.0 145.2M319.0 195.5L289.5 209.3M358.0 114.8L356.7 95.7M364.1 223.2L365.5 255.4M350.9 222.2L343.6 253.3M400.8 162.5L437.9 150.1M399.9 149.9L428.3 130.7M402.5 150.6L430.1 133.6M319.4 177.6L282.1 179.5M316.4 143.5L296.5 129.5M381.1 140.9L400.6 105.4M419.2 161.6L439.8 156.7M329.7 124.7L319.0 108.0M338.9 229.3L330.5 249.0M386.4 144.7L411.7 112.8M370.6 228.0L374.9 254.4M354.2 114.7L351.8 96.2M407.5 177.4L441.9 178.8M334.2 225.1L322.9 245.3M400.7 175.1L442.0 174.7M341.7 218.5L327.8 247.8M315.6 197.3L289.6 209.5M370.0 136.4L378.1 97.1M314.3 179.7L282.3 182.6M379.9 212.8L396.6 247.6M317.9 198.3L290.9 212.2M312.0 186.6L283.9 192.9M362.2 127.5L362.4 95.5M389.6 141.1L412.1 113.1M346.0 226.7L338.2 251.9M405.3 169.4L441.2 164.3M413.2 192.8L437.8 201.1M346.0 124.5L338.0 99.2M334.8 133.5L318.5 108.3M327.3 213.1L307.7 234.3M407.5 182.0L441.2 186.9M342.0 219.4L328.9 248.3M395.1 204.3L422.3 228.1M363.5 124.2L364.3 95.5M398.8 146.5L424.9 126.0M333.4 207.4L308.6 235.1M315.6 139.3L298.9 126.3M415.7 159.9L438.8 153.2M372.7 132.3L381.2 97.8M343.3 221.8L332.1 249.7M391.8 211.4L413.1 237.0M362.6 226.2L363.0 255.5M328.3 223.2L315.8 240.8M335.1 122.4L325.8 104.1M413.5 161.2L439.1 154.0M407.5 176.2L442.0 176.7M319.8 219.9L306.9 233.5M349.6 128.9L341.5 98.2M336.9 227.0L326.9 247.4M312.6 169.4L282.6 165.8M328.6 125.3L317.7 108.9" fill="none" stroke="#b8b8b8" stroke-width="0.45"/>
<circle cx="362" cy="175.5" r="92.2" fill="none" stroke="#b7c3b3" stroke-width="3.8"/>
<circle cx="362" cy="175.5" r="85.8" fill="none" stroke="#f8f2f4" stroke-width="3.2"/>
<g fill="none" stroke-width="2.8"><path d="M285.1 131.1A88.8 88.8 0 0 1 287.6 127.1" stroke="#e8b048"/><path d="M287.6 127.1A88.8 88.8 0 0 1 290.3 123.1" stroke="#e0a040"/><path d="M290.3 123.1A88.8 88.8 0 0 1 291.7 121.2" stroke="#e0a040"/><path d="M291.7 121.2A88.8 88.8 0 0 1 294.1 118.2" stroke="#e8b048"/><path d="M294.1 118.2A88.8 88.8 0 0 1 297.1 114.9" stroke="#9aa49a"/><path d="M297.1 114.9A88.8 88.8 0 0 1 298.2 113.8" stroke="#9aa49a"/><path d="M298.2 113.8A88.8 88.8 0 0 1 300.8 111.1" stroke="#e090e0"/><path d="M300.8 111.1A88.8 88.8 0 0 1 304.4 107.9" stroke="#d880d8"/><path d="M304.4 107.9A88.8 88.8 0 0 1 306.3 106.4" stroke="#d880d8"/><path d="M306.3 106.4A88.8 88.8 0 0 1 308.7 104.5" stroke="#e488e0"/><path d="M308.7 104.5A88.8 88.8 0 0 1 310.2 103.4" stroke="#e090e0"/><path d="M310.2 103.4A88.8 88.8 0 0 1 312.9 101.5" stroke="#d880d8"/><path d="M312.9 101.5A88.8 88.8 0 0 1 314.8 100.3" stroke="#e090e0"/><path d="M314.8 100.3A88.8 88.8 0 0 1 316.8 99.1" stroke="#d880d8"/><path d="M316.8 99.1A88.8 88.8 0 0 1 318.1 98.3" stroke="#d880d8"/><path d="M318.1 98.3A88.8 88.8 0 0 1 320.4 97.1" stroke="#e8b040"/><path d="M320.4 97.1A88.8 88.8 0 0 1 322.6 95.9" stroke="#a03030"/><path d="M322.6 95.9A88.8 88.8 0 0 1 326.0 94.3" stroke="#f0e050"/><path d="M326.0 94.3A88.8 88.8 0 0 1 328.9 93.1" stroke="#f0e050"/><path d="M328.9 93.1A88.8 88.8 0 0 1 332.1 91.9" stroke="#f2e25a"/><path d="M332.1 91.9A88.8 88.8 0 0 1 336.7 90.4" stroke="#a03030"/><path d="M336.7 90.4A88.8 88.8 0 0 1 338.4 89.9" stroke="#f0e050"/><path d="M338.4 89.9A88.8 88.8 0 0 1 341.5 89.1" stroke="#e8b040"/><path d="M341.5 89.1A88.8 88.8 0 0 1 343.3 88.7" stroke="#f0e050"/><path d="M343.3 88.7A88.8 88.8 0 0 1 347.0 88.0" stroke="#a03030"/><path d="M347.0 88.0A88.8 88.8 0 0 1 349.3 87.6" stroke="#f2e25a"/><path d="M349.3 87.6A88.8 88.8 0 0 1 353.2 87.1" stroke="#e8b040"/><path d="M353.2 87.1A88.8 88.8 0 0 1 356.0 86.9" stroke="#e8b040"/><path d="M356.0 86.9A88.8 88.8 0 0 1 358.2 86.8" stroke="#a03030"/><path d="M358.2 86.8A88.8 88.8 0 0 1 362.3 86.7" stroke="#e04040"/><path d="M362.3 86.7A88.8 88.8 0 0 1 364.1 86.7" stroke="#a05040"/><path d="M364.1 86.7A88.8 88.8 0 0 1 368.9 87.0" stroke="#a05040"/><path d="M368.9 87.0A88.8 88.8 0 0 1 373.1 87.4" stroke="#d03030"/><path d="M373.1 87.4A88.8 88.8 0 0 1 375.4 87.7" stroke="#d03030"/><path d="M375.4 87.7A88.8 88.8 0 0 1 377.8 88.1" stroke="#a05040"/><path d="M377.8 88.1A88.8 88.8 0 0 1 379.7 88.5" stroke="#e8a040"/><path d="M379.7 88.5A88.8 88.8 0 0 1 382.9 89.2" stroke="#e8b850"/><path d="M382.9 89.2A88.8 88.8 0 0 1 387.3 90.4" stroke="#f0d050"/><path d="M387.3 90.4A88.8 88.8 0 0 1 390.1 91.3" stroke="#e8a040"/><path d="M390.1 91.3A88.8 88.8 0 0 1 391.8 91.8" stroke="#e8a040"/><path d="M391.8 91.8A88.8 88.8 0 0 1 393.7 92.6" stroke="#f0d050"/><path d="M393.7 92.6A88.8 88.8 0 0 1 395.3 93.2" stroke="#e8b850"/><path d="M395.3 93.2A88.8 88.8 0 0 1 399.8 95.1" stroke="#e8b850"/><path d="M399.8 95.1A88.8 88.8 0 0 1 402.4 96.4" stroke="#e8a040"/><path d="M402.4 96.4A88.8 88.8 0 0 1 404.0 97.3" stroke="#f0d050"/><path d="M404.0 97.3A88.8 88.8 0 0 1 406.7 98.8" stroke="#e8a040"/><path d="M406.7 98.8A88.8 88.8 0 0 1 410.6 101.2" stroke="#806040"/><path d="M410.6 101.2A88.8 88.8 0 0 1 414.5 103.8" stroke="#7c7c74"/><path d="M414.5 103.8A88.8 88.8 0 0 1 415.8 104.8" stroke="#f0d050"/><path d="M415.8 104.8A88.8 88.8 0 0 1 419.6 107.9" stroke="#9aa49a"/><path d="M419.6 107.9A88.8 88.8 0 0 1 421.0 109.1" stroke="#806040"/><path d="M421.0 109.1A88.8 88.8 0 0 1 424.5 112.4" stroke="#806040"/><path d="M424.5 112.4A88.8 88.8 0 0 1 427.4 115.4" stroke="#f0d050"/><path d="M427.4 115.4A88.8 88.8 0 0 1 430.2 118.7" stroke="#7c7c74"/><path d="M430.2 118.7A88.8 88.8 0 0 1 431.6 120.4" stroke="#908070"/><path d="M431.6 120.4A88.8 88.8 0 0 1 433.0 122.1" stroke="#e8b040"/><path d="M433.0 122.1A88.8 88.8 0 0 1 434.8 124.7" stroke="#f0d050"/><path d="M434.8 124.7A88.8 88.8 0 0 1 437.2 128.3" stroke="#9aa49a"/><path d="M437.2 128.3A88.8 88.8 0 0 1 438.8 131.0" stroke="#9aa49a"/><path d="M438.8 131.0A88.8 88.8 0 0 1 441.0 135.0" stroke="#e8b040"/><path d="M441.0 135.0A88.8 88.8 0 0 1 442.2 137.4" stroke="#a8b0a4"/><path d="M442.2 137.4A88.8 88.8 0 0 1 444.1 141.7" stroke="#9aa49a"/><path d="M444.1 141.7A88.8 88.8 0 0 1 444.7 143.2" stroke="#7c7c74"/><path d="M444.7 143.2A88.8 88.8 0 0 1 446.4 147.8" stroke="#e08040"/><path d="M446.4 147.8A88.8 88.8 0 0 1 447.7 152.2" stroke="#7c7c74"/><path d="M447.7 152.2A88.8 88.8 0 0 1 448.2 154.3" stroke="#703050"/><path d="M448.2 154.3A88.8 88.8 0 0 1 449.1 158.2" stroke="#804060"/><path d="M449.1 158.2A88.8 88.8 0 0 1 449.6 160.8" stroke="#e08040"/><path d="M449.6 160.8A88.8 88.8 0 0 1 450.2 165.0" stroke="#e02030"/><path d="M450.2 165.0A88.8 88.8 0 0 1 450.5 168.2" stroke="#e06030"/><path d="M450.5 168.2A88.8 88.8 0 0 1 450.7 172.3" stroke="#e02030"/><path d="M450.7 172.3A88.8 88.8 0 0 1 450.8 175.3" stroke="#e02030"/><path d="M450.8 175.3A88.8 88.8 0 0 1 450.8 178.5" stroke="#d81828"/><path d="M450.8 178.5A88.8 88.8 0 0 1 450.7 180.6" stroke="#e06030"/><path d="M450.7 180.6A88.8 88.8 0 0 1 450.3 185.1" stroke="#e02030"/><path d="M450.3 185.1A88.8 88.8 0 0 1 450.0 187.6" stroke="#e02030"/><path d="M450.0 187.6A88.8 88.8 0 0 1 449.6 189.8" stroke="#e06030"/><path d="M449.6 189.8A88.8 88.8 0 0 1 449.1 193.0" stroke="#e06030"/><path d="M449.1 193.0A88.8 88.8 0 0 1 448.6 195.1" stroke="#e02030"/><path d="M448.6 195.1A88.8 88.8 0 0 1 447.9 198.0" stroke="#e02030"/><path d="M447.9 198.0A88.8 88.8 0 0 1 446.8 201.9" stroke="#e02030"/><path d="M446.8 201.9A88.8 88.8 0 0 1 445.4 205.9" stroke="#d81828"/><path d="M445.4 205.9A88.8 88.8 0 0 1 444.5 208.3" stroke="#d81828"/><path d="M444.5 208.3A88.8 88.8 0 0 1 443.4 210.9" stroke="#d81828"/><path d="M443.4 210.9A88.8 88.8 0 0 1 442.5 212.9" stroke="#e02030"/><path d="M442.5 212.9A88.8 88.8 0 0 1 441.6 214.9" stroke="#e02030"/><path d="M441.6 214.9A88.8 88.8 0 0 1 440.6 216.7" stroke="#e02030"/><path d="M440.6 216.7A88.8 88.8 0 0 1 439.4 219.1" stroke="#e06030"/><path d="M439.4 219.1A88.8 88.8 0 0 1 438.2 221.2" stroke="#e02030"/><path d="M438.2 221.2A88.8 88.8 0 0 1 436.4 223.9" stroke="#e02030"/><path d="M436.4 223.9A88.8 88.8 0 0 1 434.3 227.0" stroke="#e02030"/><path d="M434.3 227.0A88.8 88.8 0 0 1 432.1 230.1" stroke="#e02030"/><path d="M432.1 230.1A88.8 88.8 0 0 1 430.9 231.6" stroke="#e06030"/><path d="M430.9 231.6A88.8 88.8 0 0 1 427.9 235.0" stroke="#e02030"/><path d="M427.9 235.0A88.8 88.8 0 0 1 424.9 238.2" stroke="#d81828"/><path d="M424.9 238.2A88.8 88.8 0 0 1 423.7 239.4" stroke="#40a040"/><path d="M423.7 239.4A88.8 88.8 0 0 1 421.9 241.0" stroke="#e02030"/><path d="M421.9 241.0A88.8 88.8 0 0 1 420.3 242.5" stroke="#d02030"/><path d="M420.3 242.5A88.8 88.8 0 0 1 418.6 243.9" stroke="#e02030"/><path d="M418.6 243.9A88.8 88.8 0 0 1 416.4 245.7" stroke="#e02030"/><path d="M416.4 245.7A88.8 88.8 0 0 1 414.0 247.5" stroke="#40a040"/><path d="M414.0 247.5A88.8 88.8 0 0 1 410.5 249.9" stroke="#d02030"/><path d="M410.5 249.9A88.8 88.8 0 0 1 406.4 252.4" stroke="#e02030"/><path d="M406.4 252.4A88.8 88.8 0 0 1 403.2 254.2" stroke="#d02030"/><path d="M403.2 254.2A88.8 88.8 0 0 1 401.1 255.2" stroke="#d02030"/><path d="M401.1 255.2A88.8 88.8 0 0 1 398.7 256.4" stroke="#e02030"/><path d="M398.7 256.4A88.8 88.8 0 0 1 396.6 257.3" stroke="#d02030"/><path d="M396.6 257.3A88.8 88.8 0 0 1 395.1 257.9" stroke="#e06030"/><path d="M395.1 257.9A88.8 88.8 0 0 1 391.0 259.4" stroke="#d02030"/><path d="M391.0 259.4A88.8 88.8 0 0 1 388.2 260.3" stroke="#d02030"/><path d="M388.2 260.3A88.8 88.8 0 0 1 386.1 261.0" stroke="#d02030"/><path d="M386.1 261.0A88.8 88.8 0 0 1 384.4 261.4" stroke="#e02030"/><path d="M384.4 261.4A88.8 88.8 0 0 1 380.2 262.4" stroke="#c04040"/><path d="M380.2 262.4A88.8 88.8 0 0 1 378.5 262.8" stroke="#e02030"/><path d="M378.5 262.8A88.8 88.8 0 0 1 374.3 263.4" stroke="#e06030"/><path d="M374.3 263.4A88.8 88.8 0 0 1 370.6 263.9" stroke="#e02030"/><path d="M370.6 263.9A88.8 88.8 0 0 1 366.8 264.2" stroke="#c04040"/><path d="M366.8 264.2A88.8 88.8 0 0 1 362.9 264.3" stroke="#c04040"/><path d="M362.9 264.3A88.8 88.8 0 0 1 358.0 264.2" stroke="#40e0e0"/><path d="M358.0 264.2A88.8 88.8 0 0 1 353.2 263.9" stroke="#f070d0"/><path d="M353.2 263.9A88.8 88.8 0 0 1 348.7 263.3" stroke="#4060e0"/><path d="M348.7 263.3A88.8 88.8 0 0 1 344.2 262.5" stroke="#f070d0"/><path d="M344.2 262.5A88.8 88.8 0 0 1 341.4 261.9" stroke="#9aa49a"/><path d="M341.4 261.9A88.8 88.8 0 0 1 338.5 261.1" stroke="#a040c0"/><path d="M338.5 261.1A88.8 88.8 0 0 1 334.3 259.9" stroke="#c06060"/><path d="M334.3 259.9A88.8 88.8 0 0 1 331.7 259.0" stroke="#9aa49a"/><path d="M331.7 259.0A88.8 88.8 0 0 1 328.5 257.7" stroke="#a8b0a4"/><path d="M328.5 257.7A88.8 88.8 0 0 1 324.8 256.1" stroke="#a8b0a4"/><path d="M324.8 256.1A88.8 88.8 0 0 1 322.9 255.2" stroke="#909090"/><path d="M322.9 255.2A88.8 88.8 0 0 1 321.1 254.3" stroke="#c06060"/><path d="M321.1 254.3A88.8 88.8 0 0 1 317.4 252.3" stroke="#909090"/><path d="M317.4 252.3A88.8 88.8 0 0 1 313.7 250.0" stroke="#40e0e0"/><path d="M313.7 250.0A88.8 88.8 0 0 1 311.0 248.2" stroke="#40e0e0"/><path d="M311.0 248.2A88.8 88.8 0 0 1 308.0 246.0" stroke="#40e0e0"/><path d="M308.0 246.0A88.8 88.8 0 0 1 305.2 243.7" stroke="#f0e040"/><path d="M305.2 243.7A88.8 88.8 0 0 1 301.8 240.8" stroke="#f0e860"/><path d="M301.8 240.8A88.8 88.8 0 0 1 300.2 239.3" stroke="#8c948c"/><path d="M300.2 239.3A88.8 88.8 0 0 1 299.0 238.1" stroke="#f0e040"/><path d="M299.0 238.1A88.8 88.8 0 0 1 297.6 236.6" stroke="#f0e040"/><path d="M297.6 236.6A88.8 88.8 0 0 1 294.7 233.4" stroke="#9aa49a"/><path d="M294.7 233.4A88.8 88.8 0 0 1 292.3 230.5" stroke="#7c7c74"/><path d="M292.3 230.5A88.8 88.8 0 0 1 290.2 227.8" stroke="#507050"/><path d="M290.2 227.8A88.8 88.8 0 0 1 288.7 225.6" stroke="#909080"/><path d="M288.7 225.6A88.8 88.8 0 0 1 286.6 222.5" stroke="#c08060"/><path d="M286.6 222.5A88.8 88.8 0 0 1 285.5 220.6" stroke="#806050"/><path d="M285.5 220.6A88.8 88.8 0 0 1 283.9 217.8" stroke="#909080"/><path d="M283.9 217.8A88.8 88.8 0 0 1 282.2 214.6" stroke="#c08060"/><path d="M282.2 214.6A88.8 88.8 0 0 1 280.4 210.6" stroke="#8c948c"/><path d="M280.4 210.6A88.8 88.8 0 0 1 279.4 208.1" stroke="#7c7c74"/><path d="M279.4 208.1A88.8 88.8 0 0 1 278.2 205.0" stroke="#8c948c"/><path d="M278.2 205.0A88.8 88.8 0 0 1 277.7 203.3" stroke="#308830"/><path d="M277.7 203.3A88.8 88.8 0 0 1 276.7 200.1" stroke="#40a040"/><path d="M276.7 200.1A88.8 88.8 0 0 1 275.5 195.7" stroke="#40e0e8"/><path d="M275.5 195.7A88.8 88.8 0 0 1 275.2 194.1" stroke="#40e0e8"/><path d="M275.2 194.1A88.8 88.8 0 0 1 274.3 189.2" stroke="#40e0e8"/><path d="M274.3 189.2A88.8 88.8 0 0 1 274.0 187.0" stroke="#50d8e0"/><path d="M274.0 187.0A88.8 88.8 0 0 1 273.7 184.5" stroke="#40e0e8"/><path d="M273.7 184.5A88.8 88.8 0 0 1 273.3 180.6" stroke="#40e0e8"/><path d="M273.3 180.6A88.8 88.8 0 0 1 273.3 178.9" stroke="#50d8e0"/><path d="M273.3 178.9A88.8 88.8 0 0 1 273.2 175.2" stroke="#50d8e0"/><path d="M273.2 175.2A88.8 88.8 0 0 1 273.2 173.1" stroke="#50d8e0"/><path d="M273.2 173.1A88.8 88.8 0 0 1 273.5 168.5" stroke="#50d8e0"/><path d="M273.5 168.5A88.8 88.8 0 0 1 273.7 166.5" stroke="#a8b0a4"/><path d="M273.7 166.5A88.8 88.8 0 0 1 274.1 162.9" stroke="#707070"/><path d="M274.1 162.9A88.8 88.8 0 0 1 274.4 161.2" stroke="#707070"/><path d="M274.4 161.2A88.8 88.8 0 0 1 275.0 157.5" stroke="#a04040"/><path d="M275.0 157.5A88.8 88.8 0 0 1 276.1 153.1" stroke="#707070"/><path d="M276.1 153.1A88.8 88.8 0 0 1 276.7 150.7" stroke="#806050"/><path d="M276.7 150.7A88.8 88.8 0 0 1 277.5 148.0" stroke="#908070"/><path d="M277.5 148.0A88.8 88.8 0 0 1 278.0 146.6" stroke="#7c7c74"/><path d="M441.4 143.4A85.6 85.6 0 0 1 447.4 169.5" stroke="#b8a0f0" stroke-width="1.6"/><path d="M357.5 261.0A85.6 85.6 0 0 1 347.1 259.8" stroke="#b8a0f0" stroke-width="1.6"/><path d="M287.9 218.3A85.6 85.6 0 0 1 279.7 151.9" stroke="#b8a0f0" stroke-width="1.6"/><path d="M350.1 90.7A85.6 85.6 0 0 1 356.0 90.1" stroke="#b8a0f0" stroke-width="1.6"/><path d="M446.3 190.4A85.6 85.6 0 0 1 445.1 196.2" stroke="#b8a0f0" stroke-width="1.6"/><path d="M436.1 218.3A85.6 85.6 0 0 1 433.8 222.1" stroke="#b8a0f0" stroke-width="1.6"/><path d="M321.8 251.1A85.6 85.6 0 0 1 309.3 243.0" stroke="#b8a0f0" stroke-width="1.6"/></g>
<circle cx="362" cy="175.5" r="82.2" fill="none" stroke="#bdbdbd" stroke-width="4"/>
<path d="M362.0 175.5L267.4 142.9A100 100 0 0 1 275.4 125.5Z" fill="#fcefe7"/>

<!-- right panel: gene bars -->
<rect x="544" y="91" width="65" height="8" fill="#aaa"/>
<rect x="544" y="91" width="29" height="8" fill="#2ea98a"/><rect x="583.7" y="91" width="25.3" height="8" fill="#2ea98a"/>
<rect x="544" y="102.4" width="65" height="8" fill="#aaa"/>
<rect x="544" y="102.4" width="30.7" height="8" fill="#e0711e"/><rect x="579.7" y="102.4" width="29.3" height="8" fill="#e0711e"/>
<rect x="544" y="113.2" width="65" height="8" fill="#aaa"/>
<rect x="544" y="113.2" width="27.6" height="8" fill="#2d4e8c"/><rect x="582.1" y="113.2" width="26.9" height="8" fill="#2d4e8c"/>
<g font-family="Liberation Sans" font-weight="bold" font-size="6.3" fill="#fff" text-anchor="middle">
<text x="558.6" y="97.4">基因A</text><text x="596.3" y="97.4">基因C</text>
<text x="559.3" y="108.8">基因A</text><text x="594.3" y="108.8">基因B</text>
<text x="557.8" y="119.6">基因D</text><text x="595.5" y="119.6">基因C</text>
</g>
<rect x="663.8" y="124.4" width="65" height="7.8" fill="#aaa"/>
<rect x="663.8" y="124.4" width="28.8" height="7.8" fill="#7030a0"/><rect x="699.4" y="124.4" width="29.4" height="7.8" fill="#7030a0"/>
<g font-family="Liberation Sans" font-weight="bold" font-size="6.3" fill="#fff" text-anchor="middle"><text x="678.2" y="130.6">基因A</text><text x="714.1" y="130.6">基因B</text></g>
<g font-family="Liberation Sans" font-weight="bold" font-size="7.6" fill="#222">
<text x="560.3" y="129.3">基因组注释</text>
<text x="679.6" y="140.3">泛基因组</text>
<text x="669" y="209.4">泛基因组模型</text>
<text x="521" y="266.2">菌株模型1</text>
<text x="559.6" y="266.2">菌株模型2</text>
<text x="615.6" y="266.2">菌株模型3</text>
</g>
<!-- connectors -->
<g fill="none" stroke="#44546a" stroke-width="2.4">
<path d="M581.2 129.8V143"/>
<path d="M660 129C612 129 590 130.5 583.3 143.5"/>
<path d="M582.5 197.5V213"/>
<path d="M671.5 200.6C622 200.8 594 203 584 214.5"/>
<path d="M690.5 145.4V160"/>
</g>
<g fill="#44546a">
<path d="M577.8 141.5H585L581.3 148Z"/>
<path d="M578.9 213H586.1L582.5 219.8Z"/>
<path d="M687 159H694L690.5 165.5Z"/>
</g>
<!-- table -->
<rect x="518" y="147.6" width="128.4" height="49.8" fill="url(#tbl)" stroke="#222" stroke-width="1"/>
<path d="M517.5 148H646.8M517.5 197H646.8M517.5 160.2H646.8M552.8 147.5V197.5" stroke="#111" stroke-width="2" fill="none"/>
<g font-family="Liberation Sans" font-weight="bold" font-size="6.8" fill="#222">
<text x="559" y="157.8">菌株1</text><text x="590" y="157.8">菌株2</text>
<text x="523" y="169.4">基因A</text><text x="523" y="181.4">基因B</text>
</g>
<g font-family="Liberation Sans" font-weight="bold" font-size="6" fill="#222">
<text x="559.3" y="169.4">1</text><text x="590.6" y="169.4">0</text><text x="621.9" y="169.4">1</text>
<text x="559.3" y="181.4">1</text><text x="590.6" y="181.4">1</text><text x="621.9" y="181.4">1</text>
<text x="559.3" y="193">0</text><text x="590.6" y="193">0</text><text x="621.9" y="193">1</text>
</g>
<g font-family="Liberation Sans" font-size="6" fill="#555"><text x="620.5" y="156.8">......</text><text x="523" y="192.6">......</text></g>
<path d="M680.50 163.80L680.50 178.70M680.50 168.30L695.40 168.30M695.40 168.30L698.00 172.00M695.40 168.30L692.40 172.00M698.00 172.00L692.40 176.00M692.40 172.00L698.00 176.00M698.00 172.00L698.00 176.00M698.00 176.00L692.40 179.90M692.40 176.00L698.00 179.90M692.40 176.00L692.40 179.90M698.00 176.00L698.00 179.90M680.50 177.40L692.40 177.40M678.30 180.40L680.80 176.20L683.20 180.40ZM683.20 180.40L683.20 198.00M683.20 193.60L687.90 193.60M683.20 198.00L687.90 198.00M688.80 191.80A6.6 6.6 0 1 1 702.00 191.80A6.6 6.6 0 1 1 688.80 191.80M697.80 185.70L697.80 197.90" stroke="#7030a0" fill="none" stroke-width="0.7"/><g fill="#7030a0"><circle cx="680.5" cy="163.8" r="0.95"/><circle cx="680.5" cy="167.5" r="0.95"/><circle cx="680.5" cy="171.2" r="0.95"/><circle cx="680.5" cy="175.0" r="0.95"/><circle cx="680.5" cy="178.7" r="0.95"/><circle cx="680.5" cy="168.3" r="0.95"/><circle cx="685.5" cy="168.3" r="0.95"/><circle cx="690.4" cy="168.3" r="0.95"/><circle cx="695.4" cy="168.3" r="0.95"/><circle cx="695.4" cy="168.3" r="0.95"/><circle cx="698.0" cy="172.0" r="0.95"/><circle cx="695.4" cy="168.3" r="0.95"/><circle cx="692.4" cy="172.0" r="0.95"/><circle cx="698.0" cy="172.0" r="0.95"/><circle cx="692.4" cy="176.0" r="0.95"/><circle cx="692.4" cy="172.0" r="0.95"/><circle cx="698.0" cy="176.0" r="0.95"/><circle cx="698.0" cy="172.0" r="0.95"/><circle cx="698.0" cy="176.0" r="0.95"/><circle cx="698.0" cy="176.0" r="0.95"/><circle cx="692.4" cy="179.9" r="0.95"/><circle cx="692.4" cy="176.0" r="0.95"/><circle cx="698.0" cy="179.9" r="0.95"/><circle cx="692.4" cy="176.0" r="0.95"/><circle cx="692.4" cy="179.9" r="0.95"/><circle cx="698.0" cy="176.0" r="0.95"/><circle cx="698.0" cy="179.9" r="0.95"/><circle cx="680.5" cy="177.4" r="0.95"/><circle cx="686.5" cy="177.4" r="0.95"/><circle cx="692.4" cy="177.4" r="0.95"/><circle cx="683.2" cy="180.4" r="0.95"/><circle cx="683.2" cy="182.9" r="0.95"/><circle cx="683.2" cy="185.4" r="0.95"/><circle cx="683.2" cy="187.9" r="0.95"/><circle cx="683.2" cy="190.5" r="0.95"/><circle cx="683.2" cy="193.0" r="0.95"/><circle cx="683.2" cy="195.5" r="0.95"/><circle cx="683.2" cy="198.0" r="0.95"/><circle cx="683.2" cy="193.6" r="0.95"/><circle cx="685.5" cy="193.6" r="0.95"/><circle cx="687.9" cy="193.6" r="0.95"/><circle cx="683.2" cy="198.0" r="0.95"/><circle cx="685.5" cy="198.0" r="0.95"/><circle cx="687.9" cy="198.0" r="0.95"/><circle cx="701.7" cy="193.8" r="0.95"/><circle cx="699.3" cy="197.1" r="0.95"/><circle cx="695.4" cy="198.4" r="0.95"/><circle cx="691.5" cy="197.1" r="0.95"/><circle cx="689.1" cy="193.8" r="0.95"/><circle cx="689.1" cy="189.8" r="0.95"/><circle cx="691.5" cy="186.5" r="0.95"/><circle cx="695.4" cy="185.2" r="0.95"/><circle cx="699.3" cy="186.5" r="0.95"/><circle cx="701.7" cy="189.8" r="0.95"/></g>
<path d="M529.90 220.20L529.90 235.10M529.90 224.70L544.80 224.70M544.80 224.70L547.40 228.40M544.80 224.70L541.80 228.40M547.40 228.40L541.80 232.40M541.80 228.40L547.40 232.40M547.40 228.40L547.40 232.40M547.40 232.40L541.80 236.30M541.80 232.40L547.40 236.30M541.80 232.40L541.80 236.30M547.40 232.40L547.40 236.30M529.90 233.80L541.80 233.80M527.70 236.80L530.20 232.60L532.60 236.80ZM532.60 236.80L532.60 254.40M532.60 250.00L537.30 250.00M532.60 254.40L537.30 254.40M538.20 248.20A6.6 6.6 0 1 1 551.40 248.20A6.6 6.6 0 1 1 538.20 248.20M547.20 242.10L547.20 254.30" stroke="#2ea87a" fill="none" stroke-width="0.7"/><g fill="#2ea87a"><circle cx="529.9" cy="220.2" r="0.95"/><circle cx="529.9" cy="223.9" r="0.95"/><circle cx="529.9" cy="227.7" r="0.95"/><circle cx="529.9" cy="231.4" r="0.95"/><circle cx="529.9" cy="235.1" r="0.95"/><circle cx="529.9" cy="224.7" r="0.95"/><circle cx="534.9" cy="224.7" r="0.95"/><circle cx="539.8" cy="224.7" r="0.95"/><circle cx="544.8" cy="224.7" r="0.95"/><circle cx="544.8" cy="224.7" r="0.95"/><circle cx="547.4" cy="228.4" r="0.95"/><circle cx="544.8" cy="224.7" r="0.95"/><circle cx="541.8" cy="228.4" r="0.95"/><circle cx="547.4" cy="228.4" r="0.95"/><circle cx="541.8" cy="232.4" r="0.95"/><circle cx="541.8" cy="228.4" r="0.95"/><circle cx="547.4" cy="232.4" r="0.95"/><circle cx="547.4" cy="228.4" r="0.95"/><circle cx="547.4" cy="232.4" r="0.95"/><circle cx="547.4" cy="232.4" r="0.95"/><circle cx="541.8" cy="236.3" r="0.95"/><circle cx="541.8" cy="232.4" r="0.95"/><circle cx="547.4" cy="236.3" r="0.95"/><circle cx="541.8" cy="232.4" r="0.95"/><circle cx="541.8" cy="236.3" r="0.95"/><circle cx="547.4" cy="232.4" r="0.95"/><circle cx="547.4" cy="236.3" r="0.95"/><circle cx="529.9" cy="233.8" r="0.95"/><circle cx="535.9" cy="233.8" r="0.95"/><circle cx="541.8" cy="233.8" r="0.95"/><circle cx="532.6" cy="236.8" r="0.95"/><circle cx="532.6" cy="239.3" r="0.95"/><circle cx="532.6" cy="241.8" r="0.95"/><circle cx="532.6" cy="244.3" r="0.95"/><circle cx="532.6" cy="246.9" r="0.95"/><circle cx="532.6" cy="249.4" r="0.95"/><circle cx="532.6" cy="251.9" r="0.95"/><circle cx="532.6" cy="254.4" r="0.95"/><circle cx="532.6" cy="250.0" r="0.95"/><circle cx="534.9" cy="250.0" r="0.95"/><circle cx="537.3" cy="250.0" r="0.95"/><circle cx="532.6" cy="254.4" r="0.95"/><circle cx="534.9" cy="254.4" r="0.95"/><circle cx="537.3" cy="254.4" r="0.95"/><circle cx="551.1" cy="250.2" r="0.95"/><circle cx="548.7" cy="253.5" r="0.95"/><circle cx="544.8" cy="254.8" r="0.95"/><circle cx="540.9" cy="253.5" r="0.95"/><circle cx="538.5" cy="250.2" r="0.95"/><circle cx="538.5" cy="246.2" r="0.95"/><circle cx="540.9" cy="242.9" r="0.95"/><circle cx="544.8" cy="241.6" r="0.95"/><circle cx="548.7" cy="242.9" r="0.95"/><circle cx="551.1" cy="246.2" r="0.95"/></g>
<path d="M564.00 220.20L564.00 235.10M564.00 224.70L578.90 224.70M578.90 224.70L581.50 228.40M578.90 224.70L575.90 228.40M581.50 228.40L575.90 232.40M575.90 228.40L581.50 232.40M581.50 228.40L581.50 232.40M581.50 232.40L575.90 236.30M575.90 232.40L581.50 236.30M575.90 232.40L575.90 236.30M581.50 232.40L581.50 236.30M564.00 233.80L575.90 233.80M561.80 236.80L564.30 232.60L566.70 236.80ZM566.70 236.80L566.70 254.40M566.70 250.00L571.40 250.00M566.70 254.40L571.40 254.40M572.30 248.20A6.6 6.6 0 1 1 585.50 248.20A6.6 6.6 0 1 1 572.30 248.20M581.30 242.10L581.30 254.30" stroke="#e07020" fill="none" stroke-width="0.7"/><g fill="#e07020"><circle cx="564.0" cy="220.2" r="0.95"/><circle cx="564.0" cy="223.9" r="0.95"/><circle cx="564.0" cy="227.7" r="0.95"/><circle cx="564.0" cy="231.4" r="0.95"/><circle cx="564.0" cy="235.1" r="0.95"/><circle cx="564.0" cy="224.7" r="0.95"/><circle cx="569.0" cy="224.7" r="0.95"/><circle cx="573.9" cy="224.7" r="0.95"/><circle cx="578.9" cy="224.7" r="0.95"/><circle cx="578.9" cy="224.7" r="0.95"/><circle cx="581.5" cy="228.4" r="0.95"/><circle cx="578.9" cy="224.7" r="0.95"/><circle cx="575.9" cy="228.4" r="0.95"/><circle cx="581.5" cy="228.4" r="0.95"/><circle cx="575.9" cy="232.4" r="0.95"/><circle cx="575.9" cy="228.4" r="0.95"/><circle cx="581.5" cy="232.4" r="0.95"/><circle cx="581.5" cy="228.4" r="0.95"/><circle cx="581.5" cy="232.4" r="0.95"/><circle cx="581.5" cy="232.4" r="0.95"/><circle cx="575.9" cy="236.3" r="0.95"/><circle cx="575.9" cy="232.4" r="0.95"/><circle cx="581.5" cy="236.3" r="0.95"/><circle cx="575.9" cy="232.4" r="0.95"/><circle cx="575.9" cy="236.3" r="0.95"/><circle cx="581.5" cy="232.4" r="0.95"/><circle cx="581.5" cy="236.3" r="0.95"/><circle cx="564.0" cy="233.8" r="0.95"/><circle cx="570.0" cy="233.8" r="0.95"/><circle cx="575.9" cy="233.8" r="0.95"/><circle cx="566.7" cy="236.8" r="0.95"/><circle cx="566.7" cy="239.3" r="0.95"/><circle cx="566.7" cy="241.8" r="0.95"/><circle cx="566.7" cy="244.3" r="0.95"/><circle cx="566.7" cy="246.9" r="0.95"/><circle cx="566.7" cy="249.4" r="0.95"/><circle cx="566.7" cy="251.9" r="0.95"/><circle cx="566.7" cy="254.4" r="0.95"/><circle cx="566.7" cy="250.0" r="0.95"/><circle cx="569.0" cy="250.0" r="0.95"/><circle cx="571.4" cy="250.0" r="0.95"/><circle cx="566.7" cy="254.4" r="0.95"/><circle cx="569.0" cy="254.4" r="0.95"/><circle cx="571.4" cy="254.4" r="0.95"/><circle cx="585.2" cy="250.2" r="0.95"/><circle cx="582.8" cy="253.5" r="0.95"/><circle cx="578.9" cy="254.8" r="0.95"/><circle cx="575.0" cy="253.5" r="0.95"/><circle cx="572.6" cy="250.2" r="0.95"/><circle cx="572.6" cy="246.2" r="0.95"/><circle cx="575.0" cy="242.9" r="0.95"/><circle cx="578.9" cy="241.6" r="0.95"/><circle cx="582.8" cy="242.9" r="0.95"/><circle cx="585.2" cy="246.2" r="0.95"/></g>
<path d="M622.80 220.20L622.80 235.10M622.80 224.70L637.70 224.70M637.70 224.70L640.30 228.40M637.70 224.70L634.70 228.40M640.30 228.40L634.70 232.40M634.70 228.40L640.30 232.40M640.30 228.40L640.30 232.40M640.30 232.40L634.70 236.30M634.70 232.40L640.30 236.30M634.70 232.40L634.70 236.30M640.30 232.40L640.30 236.30M622.80 233.80L634.70 233.80M620.60 236.80L623.10 232.60L625.50 236.80ZM625.50 236.80L625.50 254.40M625.50 250.00L630.20 250.00M625.50 254.40L630.20 254.40M631.10 248.20A6.6 6.6 0 1 1 644.30 248.20A6.6 6.6 0 1 1 631.10 248.20M640.10 242.10L640.10 254.30" stroke="#2f4a8a" fill="none" stroke-width="0.7"/><g fill="#2f4a8a"><circle cx="622.8" cy="220.2" r="0.95"/><circle cx="622.8" cy="223.9" r="0.95"/><circle cx="622.8" cy="227.7" r="0.95"/><circle cx="622.8" cy="231.4" r="0.95"/><circle cx="622.8" cy="235.1" r="0.95"/><circle cx="622.8" cy="224.7" r="0.95"/><circle cx="627.8" cy="224.7" r="0.95"/><circle cx="632.7" cy="224.7" r="0.95"/><circle cx="637.7" cy="224.7" r="0.95"/><circle cx="637.7" cy="224.7" r="0.95"/><circle cx="640.3" cy="228.4" r="0.95"/><circle cx="637.7" cy="224.7" r="0.95"/><circle cx="634.7" cy="228.4" r="0.95"/><circle cx="640.3" cy="228.4" r="0.95"/><circle cx="634.7" cy="232.4" r="0.95"/><circle cx="634.7" cy="228.4" r="0.95"/><circle cx="640.3" cy="232.4" r="0.95"/><circle cx="640.3" cy="228.4" r="0.95"/><circle cx="640.3" cy="232.4" r="0.95"/><circle cx="640.3" cy="232.4" r="0.95"/><circle cx="634.7" cy="236.3" r="0.95"/><circle cx="634.7" cy="232.4" r="0.95"/><circle cx="640.3" cy="236.3" r="0.95"/><circle cx="634.7" cy="232.4" r="0.95"/><circle cx="634.7" cy="236.3" r="0.95"/><circle cx="640.3" cy="232.4" r="0.95"/><circle cx="640.3" cy="236.3" r="0.95"/><circle cx="622.8" cy="233.8" r="0.95"/><circle cx="628.8" cy="233.8" r="0.95"/><circle cx="634.7" cy="233.8" r="0.95"/><circle cx="625.5" cy="236.8" r="0.95"/><circle cx="625.5" cy="239.3" r="0.95"/><circle cx="625.5" cy="241.8" r="0.95"/><circle cx="625.5" cy="244.3" r="0.95"/><circle cx="625.5" cy="246.9" r="0.95"/><circle cx="625.5" cy="249.4" r="0.95"/><circle cx="625.5" cy="251.9" r="0.95"/><circle cx="625.5" cy="254.4" r="0.95"/><circle cx="625.5" cy="250.0" r="0.95"/><circle cx="627.9" cy="250.0" r="0.95"/><circle cx="630.2" cy="250.0" r="0.95"/><circle cx="625.5" cy="254.4" r="0.95"/><circle cx="627.9" cy="254.4" r="0.95"/><circle cx="630.2" cy="254.4" r="0.95"/><circle cx="644.0" cy="250.2" r="0.95"/><circle cx="641.6" cy="253.5" r="0.95"/><circle cx="637.7" cy="254.8" r="0.95"/><circle cx="633.8" cy="253.5" r="0.95"/><circle cx="631.4" cy="250.2" r="0.95"/><circle cx="631.4" cy="246.2" r="0.95"/><circle cx="633.8" cy="242.9" r="0.95"/><circle cx="637.7" cy="241.6" r="0.95"/><circle cx="641.6" cy="242.9" r="0.95"/><circle cx="644.0" cy="246.2" r="0.95"/></g>
<g fill="#222"><circle cx="599" cy="241" r="1.4"/><circle cx="603.5" cy="241" r="1.4"/><circle cx="608" cy="241" r="1.4"/></g>

<!-- bottom clouds -->
<g fill="#d9e3f2"><ellipse cx="147" cy="440" rx="114.5" ry="52.5"/><ellipse cx="213" cy="403" rx="57" ry="29"/></g>
<g fill="#e7f1e1"><ellipse cx="568.2" cy="432.2" rx="112.9" ry="52.5"/><ellipse cx="634" cy="398" rx="56" ry="31"/></g>

<!-- left pathway -->
<g fill="none" stroke="#000" stroke-width="3.5">
<path d="M152 380.5V404"/>
<path d="M152 403.4L144.6 412.4H159.4Z" stroke-width="3.2" stroke-linejoin="miter"/>
<path d="M160.2 413V434"/>
<ellipse cx="153.4" cy="454" rx="22.8" ry="20.1" stroke-width="3.8"/>
<path d="M128.5 476Q145 461.5 163.5 475" stroke-width="3.8"/>
</g>
<path d="M160 430.3H175.5" stroke="#777" stroke-width="1.5"/>
<path d="M158.8 478.8L167.2 472.3L170.4 484.2Z" fill="#000"/>
<!-- right pathway -->
<path d="M570.5 403H580.5V417.5H592.9V426.6H570.5Z" fill="#ea8c8c"/>
<g fill="none" stroke="#000" stroke-width="3.2">
<path d="M565.8 372V395"/>
<path d="M565.8 396L558.2 404.2H573.4Z" stroke-width="3.2" stroke-linejoin="miter"/>
<path d="M577 421.2H589.8"/>
</g>
<path d="M575.8 404V423" stroke="#6a0606" stroke-width="3.8"/>
<g fill="#ee0000"><circle cx="599.8" cy="420.4" r="5.4"/><circle cx="613" cy="420.4" r="5.4"/><circle cx="626.4" cy="420.4" r="5.4"/></g>
<ellipse cx="567.7" cy="445.9" rx="23.2" ry="20" fill="none" stroke="#808080" stroke-width="2"/>
<path d="M544.5 465.5Q563 452 581.5 471.5" fill="none" stroke="#808080" stroke-width="2"/>
<path d="M578.6 472.6L585.2 468.8L585.8 477.6Z" fill="#808080"/>
<g font-family="Liberation Sans" font-weight="bold" fill="#e8823c" font-size="15">
<text x="102.8" y="412.7" font-size="15.5">EMP</text>
<text x="137.7" y="457.9">TCA</text>
<text x="102.8" y="488.6">ETC</text>
<text x="515.8" y="407.7" font-size="15.5">EMP</text>
<text x="553.4" y="452.4">TCA</text>
<text x="523.4" y="481.6">ETC</text>
</g>
<text x="593.2" y="439.4" font-family="Liberation Sans" font-weight="bold" font-size="10" fill="#111">C<tspan font-size="6.5" dy="2">2</tspan><tspan dy="-2">H</tspan><tspan font-size="6.5" dy="2">5</tspan><tspan dy="-2">OH</tspan></text>
<!-- gradient arrow -->
<path d="M325 408H405.8V391.8L439.4 424.3L405.8 457V440.3H325Z" fill="url(#garr)"/>
</svg>

<div class="t" style="left:38px;top:20px;font-size:23.5px;letter-spacing:0.8px;color:#111;">全球酵母基因组</div>
<div class="t" style="left:76px;top:48px;font-size:23.5px;letter-spacing:1.1px;color:#111;">数据收集</div>
<div class="t" style="left:281px;top:20px;font-size:23.5px;letter-spacing:1.3px;color:#111;">酵母泛基因组</div>
<div class="t" style="left:305.5px;top:48px;font-size:23.5px;letter-spacing:1.5px;color:#111;">图谱构建</div>
<div class="t" style="left:542.5px;top:20px;font-size:23.5px;letter-spacing:1px;color:#111;">菌株特异代谢</div>
<div class="t" style="left:565px;top:48px;font-size:23.5px;letter-spacing:2px;color:#111;">通量计算</div>
<div class="t" style="left:281.5px;top:302.5px;font-size:30.5px;letter-spacing:3.1px;color:#b81418;font-weight:400;-webkit-text-stroke:0.6px #b81418;">多维整合分析</div>
<div class="t" style="left:279px;top:474px;font-size:22.5px;letter-spacing:2.05px;color:#7a3b1a;font-weight:400;-webkit-text-stroke:0.7px #7a3b1a;">人工选择与进化</div>
<div class="t" style="left:86.5px;top:517px;font-size:22px;letter-spacing:3.6px;color:#111;-webkit-text-stroke:0.3px #111;">野生型菌株</div>
<div class="t" style="left:476.5px;top:518px;font-size:22px;letter-spacing:3.25px;color:#111;-webkit-text-stroke:0.3px #111;">工业乙醇生产菌株</div>
</body></html>
